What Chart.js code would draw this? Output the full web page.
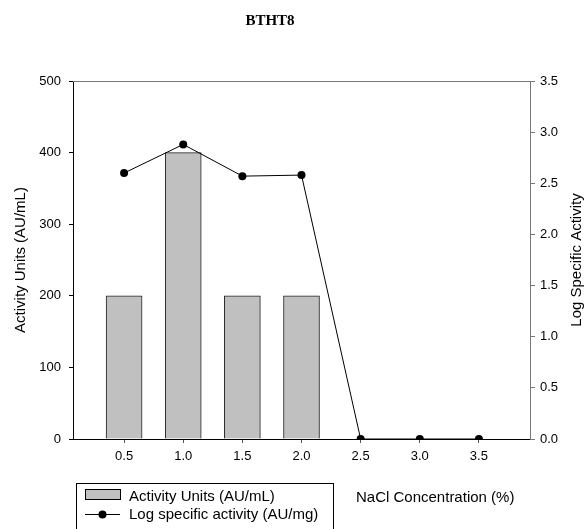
<!DOCTYPE html>
<html>
<head>
<meta charset="utf-8">
<script src="https://cdn.jsdelivr.net/npm/chart.js@4"></script>
<style>
  body { margin: 0; background: #fff; }
  canvas { display: block; }
</style>
</head>
<body>
<canvas id="chart" width="587" height="529"></canvas>
<script>
const nacl = [0.5, 1.0, 1.5, 2.0, 2.5, 3.0, 3.5];
const activityUnits = [200, 400, 200, 200, 0, 0, 0];
const logSpecific = [2.60, 2.88, 2.57, 2.58, 0, 0, 0];
const leftTicks = [0, 100, 200, 300, 400, 500];
const rightTicks = [0, 0.5, 1.0, 1.5, 2.0, 2.5, 3.0, 3.5];

const sans = 'Arial, "Liberation Sans", sans-serif';

// title, top frame line, right axis title, legend box and x-axis title
const extras = {
  id: 'extras',
  afterDraw(chart) {
    const ctx = chart.ctx;
    const a = chart.chartArea;
    ctx.save();
    ctx.strokeStyle = '#777';
    ctx.lineWidth = 1;
    ctx.beginPath();
    ctx.moveTo(a.left, a.top + 0.5);
    ctx.lineTo(a.right, a.top + 0.5);
    ctx.stroke();

    ctx.fillStyle = '#000';
    ctx.font = 'bold 15px "Liberation Serif", "Times New Roman", serif';
    ctx.textAlign = 'center';
    ctx.textBaseline = 'middle';
    ctx.fillText('BTHT8', 270, 21);

    ctx.font = '15px ' + sans;
    ctx.save();
    ctx.translate(577, (a.top + a.bottom) / 2);
    ctx.rotate(-Math.PI / 2);
    ctx.fillText('Log Specific Activity', 0, 0);
    ctx.restore();

    // legend
    ctx.strokeStyle = '#000';
    ctx.strokeRect(76.5, 483.5, 257, 60);
    ctx.fillStyle = '#c0c0c0';
    ctx.fillRect(85.5, 489.5, 35, 10);
    ctx.strokeRect(85.5, 489.5, 35, 10);
    ctx.beginPath();
    ctx.moveTo(85, 514.5);
    ctx.lineTo(120, 514.5);
    ctx.stroke();
    ctx.fillStyle = '#000';
    ctx.beginPath();
    ctx.arc(102.5, 514.5, 4, 0, Math.PI * 2);
    ctx.fill();
    ctx.textAlign = 'left';
    ctx.fillText('Activity Units (AU/mL)', 129, 497);
    ctx.fillText('Log specific activity (AU/mg)', 129, 515);
    ctx.fillText('NaCl Concentration (%)', 356, 498);
    ctx.restore();
  }
};

new Chart(document.getElementById('chart'), {
  type: 'bar',
  data: {
    datasets: [
      {
        type: 'line',
        label: 'Log specific activity (AU/mg)',
        data: nacl.map((x, i) => ({ x: x, y: logSpecific[i] })),
        yAxisID: 'y1',
        borderColor: '#000',
        backgroundColor: '#000',
        borderWidth: 1,
        pointRadius: 4,
        pointBackgroundColor: '#000',
        pointBorderWidth: 0,
        tension: 0,
        order: 0
      },
      {
        label: 'Activity Units (AU/mL)',
        data: nacl.map((x, i) => ({ x: x, y: activityUnits[i] })),
        yAxisID: 'y',
        backgroundColor: '#c0c0c0',
        borderColor: '#222',
        borderWidth: 1,
        barThickness: 36,
        order: 1
      }
    ]
  },
  options: {
    responsive: false,
    animation: false,
    layout: { padding: { top: 81 } },
    plugins: {
      legend: { display: false },
      title: { display: false },
      tooltip: { enabled: false }
    },
    scales: {
      x: {
        type: 'linear',
        offset: false,
        min: 0.068,
        max: 3.932,
        afterBuildTicks: s => { s.ticks = nacl.map(v => ({ value: v })); },
        afterFit: s => { s.height = 90; },
        border: { color: '#000', width: 1 },
        grid: { offset: false, drawOnChartArea: false, tickLength: 4, color: '#555' },
        ticks: {
          color: '#000',
          padding: 6,
          font: { family: sans, size: 13 },
          callback: v => v.toFixed(1)
        }
      },
      y: {
        position: 'left',
        min: 0,
        max: 500,
        afterBuildTicks: s => { s.ticks = leftTicks.map(v => ({ value: v })); },
        afterFit: s => { s.width = 73; },
        border: { color: '#000', width: 1 },
        grid: { drawOnChartArea: false, tickLength: 4, color: '#000' },
        ticks: { color: '#000', padding: 8, font: { family: sans, size: 13 } },
        title: {
          display: true,
          text: 'Activity Units (AU/mL)',
          color: '#000',
          font: { family: sans, size: 15 },
          padding: { top: 12, bottom: 0 }
        }
      },
      y1: {
        position: 'right',
        min: 0,
        max: 3.5,
        afterBuildTicks: s => { s.ticks = rightTicks.map(v => ({ value: v })); },
        afterFit: s => { s.width = 57; },
        border: { color: '#777', width: 1 },
        grid: { drawOnChartArea: false, tickLength: 5, color: '#777' },
        ticks: {
          color: '#000',
          padding: 5,
          font: { family: sans, size: 13 },
          callback: v => v.toFixed(1)
        }
      }
    }
  },
  plugins: [extras]
});
</script>
</body>
</html>
